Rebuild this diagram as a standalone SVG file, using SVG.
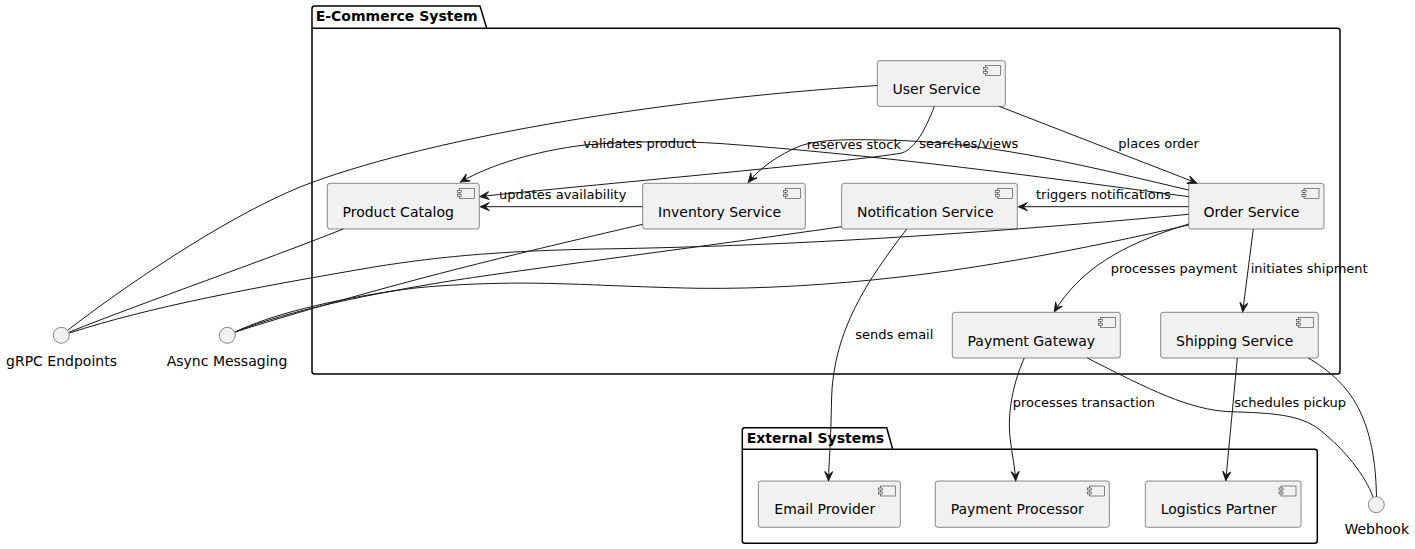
<svg xmlns="http://www.w3.org/2000/svg" width="1415" height="549" viewBox="0 0 1415 549">
<style>
.pkg{fill:none;stroke:#000;stroke-width:1.5}
.ptitle{font-family:"DejaVu Sans",sans-serif;font-size:14px;font-weight:bold;fill:#000}
.box{fill:#F1F1F1;stroke:#181818;stroke-width:0.5}
.ico{fill:#F1F1F1;stroke:#181818;stroke-width:0.5}
.name{font-family:"DejaVu Sans",sans-serif;font-size:14px;fill:#000}
.iface{fill:#F1F1F1;stroke:#181818;stroke-width:0.5}
.edge{fill:none;stroke:#181818;stroke-width:1}
.lbl{font-family:"DejaVu Sans",sans-serif;font-size:13px;fill:#000}
</style>
<defs>
<marker id="arr" viewBox="-12 -6 13 12" refX="0" refY="0" markerWidth="13" markerHeight="12" markerUnits="userSpaceOnUse" orient="auto">
<path d="M0,0 L-9,-4 L-5,0 L-9,4 Z" fill="#181818" stroke="#181818" stroke-width="1" stroke-linejoin="miter"/>
</marker>
<g id="icon">
<rect class="ico" x="-20" y="5" width="15" height="10"/>
<rect class="ico" x="-22" y="7" width="4" height="2"/>
<rect class="ico" x="-22" y="11" width="4" height="2"/>
</g>
</defs>
<rect width="1415" height="549" fill="#FFFFFF"/>

<g id="pkg-ecommerce">
<path class="pkg" d="M314.5,6 L480,6 L486.7,28.3 L1337.5,28.3 A2.5,2.5 0 0 1 1340,30.8 L1340,371.5 A2.5,2.5 0 0 1 1337.5,374 L314.5,374 A2.5,2.5 0 0 1 312,371.5 L312,8.5 A2.5,2.5 0 0 1 314.5,6 Z"/>
<line class="pkg" x1="312" y1="28.3" x2="486.7" y2="28.3"/>
<text class="ptitle" x="315.7" y="21">E-Commerce System</text>
</g>
<g id="pkg-external">
<path class="pkg" d="M744.8,427.7 L886.7,427.7 L892.7,449.3 L1314.8,449.3 A2.5,2.5 0 0 1 1317.3,451.8 L1317.3,540.8 A2.5,2.5 0 0 1 1314.8,543.3 L744.8,543.3 A2.5,2.5 0 0 1 742.3,540.8 L742.3,430.2 A2.5,2.5 0 0 1 744.8,427.7 Z"/>
<line class="pkg" x1="742.3" y1="449.3" x2="892.7" y2="449.3"/>
<text class="ptitle" x="746.7" y="443.3">External Systems</text>
</g>

<g id="user-service">
<rect class="box" x="877.3" y="60.7" width="128" height="45.7" rx="2.5"/>
<use href="#icon" x="1005.3" y="60.7"/>
<text class="name" x="892.5" y="93.5">User Service</text>
</g>
<g id="product-catalog">
<rect class="box" x="327.3" y="183.3" width="152" height="45.7" rx="2.5"/>
<use href="#icon" x="479.3" y="183.3"/>
<text class="name" x="342.5" y="216.5">Product Catalog</text>
</g>
<g id="inventory-service">
<rect class="box" x="642.7" y="183.3" width="162.6" height="45.7" rx="2.5"/>
<use href="#icon" x="805.3" y="183.3"/>
<text class="name" x="658" y="216.5">Inventory Service</text>
</g>
<g id="notification-service">
<rect class="box" x="841.7" y="183.3" width="175.6" height="45.7" rx="2.5"/>
<use href="#icon" x="1017.3" y="183.3"/>
<text class="name" x="857" y="216.5">Notification Service</text>
</g>
<g id="order-service">
<rect class="box" x="1188.7" y="183.3" width="135.3" height="45.7" rx="2.5"/>
<use href="#icon" x="1324" y="183.3"/>
<text class="name" x="1203.5" y="216.5">Order Service</text>
</g>
<g id="payment-gateway">
<rect class="box" x="952.3" y="312.3" width="168" height="45.7" rx="2.5"/>
<use href="#icon" x="1120.3" y="312.3"/>
<text class="name" x="967.5" y="345.5">Payment Gateway</text>
</g>
<g id="shipping-service">
<rect class="box" x="1160.7" y="312.3" width="157.6" height="45.7" rx="2.5"/>
<use href="#icon" x="1318.3" y="312.3"/>
<text class="name" x="1176" y="345.5">Shipping Service</text>
</g>
<g id="email-provider">
<rect class="box" x="758.3" y="481" width="142" height="46.3" rx="2.5"/>
<use href="#icon" x="900.3" y="481"/>
<text class="name" x="774.3" y="514.3">Email Provider</text>
</g>
<g id="payment-processor">
<rect class="box" x="935.3" y="481" width="174" height="46.3" rx="2.5"/>
<use href="#icon" x="1109.3" y="481"/>
<text class="name" x="950.7" y="514.3">Payment Processor</text>
</g>
<g id="logistics-partner">
<rect class="box" x="1145.3" y="481" width="155.7" height="46.3" rx="2.5"/>
<use href="#icon" x="1301" y="481"/>
<text class="name" x="1160.7" y="514.3">Logistics Partner</text>
</g>
<g id="grpc-endpoints">
<circle class="iface" cx="61.3" cy="335.3" r="8"/>
<text class="name" x="61.5" y="365.5" text-anchor="middle">gRPC Endpoints</text>
</g>
<g id="async-messaging">
<circle class="iface" cx="227.3" cy="335.3" r="8"/>
<text class="name" x="227" y="365.5" text-anchor="middle">Async Messaging</text>
</g>
<g id="webhook">
<circle class="iface" cx="1376.3" cy="504.7" r="8"/>
<text class="name" x="1376.7" y="534.3" text-anchor="middle">Webhook</text>
</g>

<g id="connectors">
<path class="edge" marker-end="url(#arr)" d="M999.3,106.4 L1196.7,183"/>
<path class="edge" marker-end="url(#arr)" d="M934.3,106.4 C926,128 916,148 902,153 C850,162 620,182 480,196.5"/>
<path class="edge" marker-end="url(#arr)" d="M1188.7,190 C1090,167 1000,144 900,140.5 C850,139 820,139 800,146 C778,155 760,168 748.3,182.3"/>
<path class="edge" marker-end="url(#arr)" d="M1188.7,196.7 C1050,178 880,155 720,143.5 C680,141 630,141 585,145 C535,151 490,165 460.5,182"/>
<path class="edge" marker-end="url(#arr)" d="M1188.7,206.7 L1018.3,206.7"/>
<path class="edge" marker-end="url(#arr)" d="M642.7,206.7 L480.3,206.7"/>
<path class="edge" marker-end="url(#arr)" d="M1188.7,224 C1120,245 1080,270 1054.3,311.7"/>
<path class="edge" marker-end="url(#arr)" d="M1253.3,229 L1242.7,311.7"/>
<path class="edge" marker-end="url(#arr)" d="M906.7,229 C868,280 833,330 831.5,400 C831,440 829,460 828.5,480.5"/>
<path class="edge" marker-end="url(#arr)" d="M1024.3,358 C1010,390 1008,420 1010,437 C1012,455 1015,468 1015.7,480.5"/>
<path class="edge" marker-end="url(#arr)" d="M1237.3,358 L1225.8,480.5"/>
<path class="edge" d="M1087.3,358 C1150,390 1190,410 1230,411.7 C1270,413 1300,414 1320,430 C1345,450 1365,475 1373,497"/>
<path class="edge" d="M1308.3,358 C1345,380 1375,410 1376.5,496.7"/>
<path class="edge" d="M877.3,85.5 C650,100 420,140 300,187 C220,220 120,290 68,330"/>
<path class="edge" d="M343.3,229 C260,262 150,300 69.3,332"/>
<path class="edge" d="M1188.7,214.3 C1000,232 800,246 600,249 C480,251 420,260 380,266 C250,288 150,307 69.3,333"/>
<path class="edge" d="M642.7,224.3 C550,246 400,280 235,332"/>
<path class="edge" d="M841.7,226.7 C700,247 520,270 450,281 C370,294 290,310 235,332"/>
<path class="edge" d="M1188.7,225 C1080,250 980,268 900,277 C830,285 760,289 700,288.3 C620,287 560,282 500,283.3 C450,284.5 420,287 400,290 C330,300 270,315 235,332"/>

<text class="lbl" x="583.3" y="148">validates product</text>
<text class="lbl" x="806.7" y="149">reserves stock</text>
<text class="lbl" x="919.3" y="148">searches/views</text>
<text class="lbl" x="1118.3" y="148.3">places order</text>
<text class="lbl" x="499" y="199.3">updates availability</text>
<text class="lbl" x="1036" y="199.3">triggers notifications</text>
<text class="lbl" x="1110.7" y="273.3">processes payment</text>
<text class="lbl" x="1250.7" y="273">initiates shipment</text>
<text class="lbl" x="855.3" y="339.3">sends email</text>
<text class="lbl" x="1012.7" y="407.3">processes transaction</text>
<text class="lbl" x="1234.3" y="407.3">schedules pickup</text>
</g>
</svg>
